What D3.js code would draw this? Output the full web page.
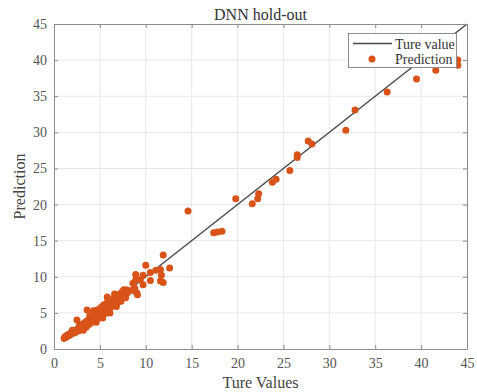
<!DOCTYPE html>
<html><head><meta charset="utf-8">
<script src="https://cdn.jsdelivr.net/npm/d3@7"></script>
<style>body{margin:0;background:#fff}svg{display:block}text{font-family:"Liberation Serif","Times New Roman",serif;}</style>
</head><body><div id="chart"></div>
<script>
const titleText = "DNN hold-out";
const xLabel = "Ture Values";
const yLabel = "Prediction";
const legendLabels = ["Ture value", "Prediction"];
const tickValues = [0,5,10,15,20,25,30,35,40,45];
const lineRange = [1.0, 45];
const trueVals = [1.1,1.2,1.3,1.4,1.5,1.6,1.7,1.8,1.9,2.0,2.1,2.2,2.3,2.4,2.5,2.5,2.6,2.7,2.8,2.9,3.0,3.0,3.1,3.2,3.3,3.3,3.4,3.5,3.5,3.6,3.6,3.7,3.8,3.8,3.9,4.0,4.0,4.1,4.2,4.2,4.3,4.4,4.4,4.5,4.5,4.6,4.7,4.7,4.8,4.9,4.9,5.0,5.0,5.1,5.2,5.2,5.3,5.4,5.4,5.5,5.6,5.6,5.7,5.8,5.8,5.9,6.0,6.0,6.1,6.2,6.3,6.3,6.4,6.5,6.6,6.7,6.8,6.9,7.0,7.0,7.1,7.2,7.3,7.4,7.5,7.6,7.7,7.9,8.0,8.4,8.6,8.8,8.9,8.9,9.0,9.1,9.4,9.7,9.7,10.0,10.5,10.5,11.1,11.6,11.7,11.6,11.9,11.9,12.6,
3.2,4.6,5.3,6.1,6.8,5.9,4.3,6.6,7.3,7.8,2.0,2.8,3.9,
14.6,17.4,17.8,18.3,19.8,21.6,22.2,22.3,23.8,24.2,25.7,26.5,26.5,27.7,28.1,31.8,32.8,36.3,39.5,41.6,44.0,44.0];
const predVals = [1.5,1.7,1.6,1.9,1.8,2.0,1.9,2.2,2.1,2.3,2.5,2.2,2.6,2.4,4.0,2.7,2.5,2.9,2.6,3.1,2.8,3.3,3.0,3.4,3.1,3.6,3.3,3.8,3.0,5.4,3.5,3.9,3.4,4.1,3.7,4.3,3.6,4.0,4.5,3.8,4.2,4.7,4.0,4.4,5.0,4.2,4.8,5.4,4.5,5.1,4.3,5.6,4.8,5.2,4.6,5.8,5.0,5.5,6.1,5.2,5.8,4.9,6.3,7.2,5.5,6.0,5.4,6.6,6.2,5.8,6.8,6.4,6.0,7.0,6.6,6.2,7.1,6.8,7.4,6.5,7.0,7.6,7.2,7.9,7.3,8.2,7.6,8.2,7.8,8.1,9.1,8.4,10.3,9.6,7.8,7.5,9.6,8.9,10.2,11.6,10.6,9.5,10.9,11.0,10.2,9.4,9.2,13.0,11.2,
2.6,3.7,4.3,5.0,5.9,6.9,5.3,7.6,6.6,7.1,2.6,3.4,4.6,
19.1,16.1,16.2,16.3,20.8,20.1,20.8,21.5,23.1,23.5,24.7,26.5,26.9,28.8,28.4,30.3,33.1,35.6,37.4,38.6,40.0,39.3];

const W = 477, H = 392;
const m = {l:54, r:10, t:24, b:43};
const svg = d3.select("#chart").append("svg").attr("width", W).attr("height", H);
const x = d3.scaleLinear().domain([0,45]).range([m.l, W - m.r]);
const y = d3.scaleLinear().domain([0,45]).range([H - m.b, m.t]);
const axisCol = "#8c8c8c", gridCol = "#e8e8e8", dotCol = "#d95319";

// grid
const g = svg.append("g");
g.selectAll(".gx").data(tickValues.slice(1,-1)).join("line")
  .attr("x1", d=>x(d)).attr("x2", d=>x(d)).attr("y1", y(0)).attr("y2", y(45))
  .attr("stroke", gridCol).attr("stroke-width", 1);
g.selectAll(".gy").data(tickValues.slice(1,-1)).join("line")
  .attr("y1", d=>y(d)).attr("y2", d=>y(d)).attr("x1", x(0)).attr("x2", x(45))
  .attr("stroke", gridCol).attr("stroke-width", 1);

// diagonal line
svg.append("line").attr("x1", x(lineRange[0])).attr("y1", y(lineRange[0]))
  .attr("x2", x(lineRange[1])).attr("y2", y(lineRange[1]))
  .attr("stroke", "#4a4a4a").attr("stroke-width", 1.5);

// points
svg.append("g").selectAll("circle").data(trueVals.map((v,i)=>[v,predVals[i]])).join("circle")
  .attr("cx", d=>x(d[0])).attr("cy", d=>y(d[1])).attr("r", 3.5).attr("fill", dotCol);

// axes (ticks inside)
function styleAxis(sel){ sel.select(".domain").attr("stroke", axisCol);
  sel.selectAll(".tick line").attr("stroke", axisCol);
  sel.selectAll("text").attr("fill", "#555").style("font-size","14px").style("font-family",'"Liberation Serif",serif'); }
const xa = svg.append("g").attr("transform", `translate(0,${y(0)})`)
  .call(d3.axisBottom(x).tickValues(tickValues).tickSize(-4).tickPadding(9).tickSizeOuter(0));
styleAxis(xa);
const ya = svg.append("g").attr("transform", `translate(${x(0)},0)`)
  .call(d3.axisLeft(y).tickValues(tickValues).tickSize(-4).tickPadding(7).tickSizeOuter(0));
styleAxis(ya);
const xt = svg.append("g").attr("transform", `translate(0,${y(45)})`)
  .call(d3.axisTop(x).tickValues(tickValues).tickSize(-4).tickFormat("").tickSizeOuter(0));
xt.select(".domain").attr("stroke", axisCol); xt.selectAll(".tick line").attr("stroke", axisCol);
const yr = svg.append("g").attr("transform", `translate(${x(45)},0)`)
  .call(d3.axisRight(y).tickValues(tickValues).tickSize(-4).tickFormat("").tickSizeOuter(0));
yr.select(".domain").attr("stroke", axisCol); yr.selectAll(".tick line").attr("stroke", axisCol);

// labels
svg.append("text").attr("x", (x(0)+x(45))/2).attr("y", 20).attr("text-anchor","middle")
  .style("font-size","16px").attr("fill","#333").text(titleText);
svg.append("text").attr("x", (x(0)+x(45))/2).attr("y", 388).attr("text-anchor","middle")
  .style("font-size","16px").attr("fill","#444").text(xLabel);
svg.append("text").attr("transform", `translate(25,${(y(0)+y(45))/2}) rotate(-90)`).attr("text-anchor","middle")
  .style("font-size","16px").attr("fill","#444").text(yLabel);

// legend
const lg = svg.append("g");
lg.append("rect").attr("x", 348.5).attr("y", 33.5).attr("width", 108).attr("height", 34)
  .attr("fill","#fff").attr("stroke","#8c8c8c").attr("stroke-width",1);
lg.append("line").attr("x1",353).attr("x2",392).attr("y1",43.5).attr("y2",43.5).attr("stroke","#4a4a4a").attr("stroke-width",1.5);
lg.append("text").attr("x",395).attr("y",48.5).style("font-size","14px").attr("fill","#333").text(legendLabels[0]);
lg.append("circle").attr("cx",372).attr("cy",59).attr("r",3.5).attr("fill",dotCol);
lg.append("text").attr("x",395).attr("y",64).style("font-size","14px").attr("fill","#333").text(legendLabels[1]);
</script></body></html>
